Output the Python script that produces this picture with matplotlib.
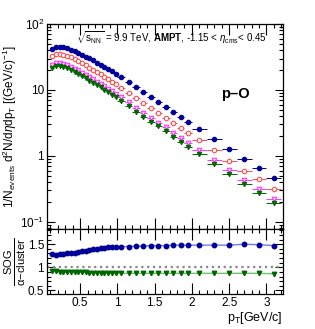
"""
p-O pT spectra (AMPT, sqrt(s_NN)=9.9 TeV) with SOG / alpha-cluster ratio panel.
"""

import matplotlib
matplotlib.use("Agg")
import matplotlib.pyplot as plt
import numpy as np
from matplotlib.ticker import MultipleLocator, LogLocator, NullFormatter, FixedLocator, FixedFormatter

plt.rcParams["font.family"] = ["Liberation Sans", "DejaVu Sans"]
plt.rcParams["mathtext.fontset"] = "custom"
plt.rcParams["mathtext.rm"] = "Liberation Sans"
plt.rcParams["mathtext.it"] = "Liberation Sans:italic"
plt.rcParams["mathtext.bf"] = "Liberation Sans:bold"

# bin edges in pT (GeV/c)
pt_edges = ([0.10 + 0.05 * k for k in range(19)]
            + [1.1, 1.2, 1.3, 1.4, 1.5, 1.6, 1.7, 1.8, 1.9, 2.0]
            + [2.2, 2.4, 2.6, 2.8, 3.0, 3.2])

# spectra
sog_a = [42.2, 44.7, 45.0, 44.2, 42.7, 40.7, 38.6, 36.5, 34.3, 32.1, 30.1, 28.0,
         26.0, 24.2, 22.4, 20.7, 19.1, 17.6,
         15.6, 13.1, 11.0, 9.2, 7.8, 6.6, 5.5, 4.6, 3.86, 3.27,
         2.54, 1.79, 1.26, 0.89, 0.65, 0.47]
alpha_a = [33.0, 35.2, 35.2, 34.3, 32.8, 31.1, 29.2, 27.4, 25.4, 23.6, 21.8, 20.1,
           18.6, 17.2, 15.8, 14.5, 13.4, 12.2,
           10.8, 9.0, 7.5, 6.3, 5.3, 4.5, 3.74, 3.11, 2.61, 2.21,
           1.72, 1.21, 0.85, 0.59, 0.44, 0.32]
alpha_b = [23.6, 25.3, 25.4, 24.8, 23.7, 22.5, 21.1, 19.8, 18.3, 17.0, 15.7, 14.5,
           13.4, 12.4, 11.4, 10.4, 9.6, 8.8,
           7.8, 6.5, 5.4, 4.5, 3.8, 3.2, 2.7, 2.24, 1.88, 1.59,
           1.24, 0.87, 0.61, 0.43, 0.31, 0.225]
sog_b = [21.5, 23.0, 22.9, 22.3, 21.3, 20.3, 18.8, 17.6, 16.3, 15.1, 13.8, 12.8,
         11.8, 10.9, 10.0, 9.2, 8.4, 7.7,
         6.8, 5.7, 4.7, 3.9, 3.3, 2.8, 2.35, 1.95, 1.64, 1.38,
         1.08, 0.76, 0.53, 0.37, 0.27, 0.19]

# ratio SOG / alpha-cluster
ratio_a = [1.28, 1.27, 1.28, 1.29, 1.30, 1.31, 1.32, 1.33, 1.35, 1.36, 1.38, 1.39,
           1.40, 1.41, 1.42, 1.43, 1.43, 1.44,
           1.45, 1.45, 1.46, 1.46, 1.47, 1.47, 1.47, 1.48, 1.48, 1.48,
           1.48, 1.48, 1.48, 1.50, 1.49, 1.47]
ratio_b = [0.91, 0.91, 0.90, 0.90, 0.90, 0.90, 0.89, 0.89, 0.89, 0.89, 0.88, 0.88,
           0.88, 0.88, 0.88, 0.88, 0.88, 0.88,
           0.87, 0.87, 0.87, 0.87, 0.87, 0.87, 0.87, 0.87, 0.87, 0.87,
           0.87, 0.87, 0.87, 0.87, 0.87, 0.86]

C_BLUE = "#000099"
C_RED = "#ff4d4d"
C_MAG = "#ff33ff"
C_GRN = "#006600"
MS = 3.2

edges = np.array(pt_edges)
pt = 0.5 * (edges[1:] + edges[:-1])
xerr = 0.5 * (edges[1:] - edges[:-1])

fig = plt.figure(figsize=(3.15, 3.29), dpi=100)
ax_t = fig.add_axes([0.149, 0.304, 0.749, 0.623])
ax_b = fig.add_axes([0.149, 0.106, 0.749, 0.198], sharex=ax_t)

series = [
    (sog_a, C_BLUE, "o", C_BLUE),
    (alpha_a, C_RED, "o", "white"),
    (alpha_b, C_MAG, "v", "white"),
    (sog_b, C_GRN, "v", C_GRN),
]
for vals, col, mk, face in series:
    ax_t.errorbar(pt, vals, xerr=xerr, fmt=mk, color=col, mfc=face, mec=col,
                  ms=MS, mew=0.8, elinewidth=0.7, capsize=0)

ax_t.set_yscale("log")
ax_t.set_ylim(0.078, 100)
ax_t.set_xlim(0.055, 3.22)
ax_t.yaxis.set_major_locator(FixedLocator([0.1, 1, 10, 100]))
ax_t.yaxis.set_major_formatter(FixedFormatter(["$10^{-1}$", "1", "10", "$10^{2}$"]))
ax_t.yaxis.set_minor_locator(LogLocator(base=10, subs=np.arange(2, 10)))
ax_t.yaxis.set_minor_formatter(NullFormatter())
plt.setp(ax_t.get_xticklabels(), visible=False)
ax_t.set_ylabel("1/N$_{\\rm events}$ d$^{2}$N/d$\\eta$dp$_{\\rm T}$ [(GeV/c)$^{-1}$]",
                fontsize=8.5, labelpad=1)

ax_t.text(0.525, 0.935,
          "$\\sqrt{\\rm s_{\\rm NN}}$ = 9.9 TeV, $\\mathbf{AMPT}$, -1.15 < $\\eta_{\\rm cms}$< 0.45",
          transform=ax_t.transAxes, fontsize=7.0, ha="center", va="center")
ax_t.text(0.8, 0.66, "p\u2013O", transform=ax_t.transAxes, fontsize=10.5,
          fontweight="bold", ha="center", va="center")

# ratio panel
ax_b.axhline(1.0, color="#888888", linestyle=":", linewidth=1.6)
ax_b.plot(pt, ratio_a, color="#7777dd", linewidth=1.0)
ax_b.plot(pt, ratio_b, color="#77bb77", linewidth=1.0)
ax_b.plot(pt, ratio_a, "o", color=C_BLUE, ms=MS)
ax_b.plot(pt, ratio_b, "v", color=C_GRN, ms=MS)
ax_b.set_ylim(0.42, 1.83)
ax_b.yaxis.set_major_locator(FixedLocator([0.5, 1.0, 1.5]))
ax_b.yaxis.set_major_formatter(FixedFormatter(["0.5", "1", "1.5"]))
ax_b.yaxis.set_minor_locator(MultipleLocator(0.1))
ax_b.xaxis.set_major_locator(FixedLocator([0.5, 1, 1.5, 2, 2.5, 3]))
ax_b.xaxis.set_major_formatter(FixedFormatter(["0.5", "1", "1.5", "2", "2.5", "3"]))
ax_b.xaxis.set_minor_locator(MultipleLocator(0.1))
ax_b.set_ylabel("$\\frac{\\rm SOG}{\\alpha\\rm{-cluster}}$", fontsize=11.5, labelpad=0)
ax_b.set_xlabel("p$_{\\rm T}$[GeV/c]", fontsize=9, loc="right", labelpad=1)

for ax in (ax_t, ax_b):
    ax.tick_params(which="both", direction="in", top=True, right=True,
                   labelsize=8.5, width=0.8)
    ax.tick_params(which="major", length=6)
    ax.tick_params(which="minor", length=3)
    for sp in ax.spines.values():
        sp.set_linewidth(0.9)
ax_t.tick_params(axis="x", which="major", length=8)
ax_b.tick_params(axis="x", which="major", length=8, pad=2)
ax_t.tick_params(axis="y", pad=2)
ax_b.tick_params(axis="y", pad=2)

fig.savefig("out.png", dpi=100)
